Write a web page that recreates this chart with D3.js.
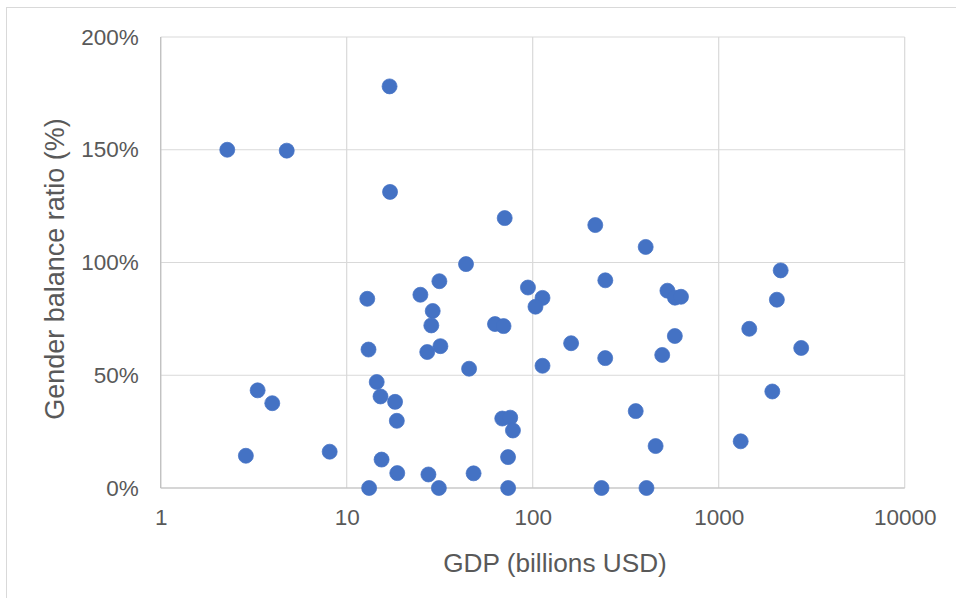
<!DOCTYPE html>
<html>
<head>
<meta charset="utf-8">
<script src="https://cdn.jsdelivr.net/npm/d3@7"></script>
<style>
  html, body { margin: 0; padding: 0; background: #fff; }
  svg { display: block; }
  text { font-family: "Liberation Sans", Arial, sans-serif; fill: #595959; }
</style>
</head>
<body>
<svg id="chart" width="956" height="598"></svg>
<script>
// GDP in billions USD (log scale)
const gdp = [
  2.28, 4.76, 17.0, 17.1, 70.7, 217, 405, 2154, 43.8, 31.5,
  245.7, 94.3, 530, 24.9, 112.9, 582, 627, 2055, 12.9, 103.5,
  29.0, 62.7, 69.7, 28.5, 1460, 581, 160.9, 31.9, 2777, 13.1,
  27.1, 497, 245.4, 112.9, 45.5, 14.5, 3.32, 1942, 15.2, 18.2,
  3.98, 358, 68.6, 75.7, 18.6, 78.3, 1313, 458, 8.1, 2.87,
  73.7, 15.4, 18.7, 27.5, 48.1, 13.2, 31.3, 73.8, 234.4, 409
];
// Gender balance ratio (%)
const ratio = [
  150.0, 149.6, 178.1, 131.3, 119.7, 116.6, 106.9, 96.5, 99.3, 91.7,
  92.1, 88.9, 87.5, 85.7, 84.3, 84.4, 84.8, 83.5, 83.9, 80.4,
  78.5, 72.7, 71.8, 72.1, 70.6, 67.4, 64.2, 62.9, 62.1, 61.4,
  60.3, 59.0, 57.6, 54.2, 52.9, 47.0, 43.3, 42.8, 40.6, 38.2,
  37.6, 34.1, 30.8, 31.2, 29.8, 25.5, 20.7, 18.6, 16.1, 14.3,
  13.7, 12.6, 6.6, 6.0, 6.5, 0, 0, 0, 0, 0
];
const xTicks = [1, 10, 100, 1000, 10000];
const yTicks = [0, 50, 100, 150, 200];
const xTitle = "GDP (billions USD)";
const yTitle = "Gender balance ratio (%)";

const svg = d3.select("#chart");
const plot = { left: 160.7, right: 904.7, top: 37, bottom: 488 };

// Outer chart border (partially cropped)
svg.append("rect")
  .attr("x", 6.5).attr("y", 7.5)
  .attr("width", 970).attr("height", 620)
  .attr("fill", "none").attr("stroke", "#d9d9d9").attr("stroke-width", 1);

const x = d3.scaleLog().domain([1, 10000]).range([plot.left, plot.right]);
const y = d3.scaleLinear().domain([0, 200]).range([plot.bottom, plot.top]);

// Gridlines
const grid = svg.append("g");
grid.selectAll("line.h").data(yTicks).join("line")
  .attr("x1", plot.left).attr("x2", plot.right)
  .attr("y1", d => y(d)).attr("y2", d => y(d))
  .attr("stroke", "#d9d9d9").attr("stroke-width", 1.2);
grid.selectAll("line.v").data(xTicks).join("line")
  .attr("y1", plot.top).attr("y2", plot.bottom)
  .attr("x1", d => x(d)).attr("x2", d => x(d))
  .attr("stroke", "#d9d9d9").attr("stroke-width", 1.2);

// Axis lines
svg.append("line")
  .attr("x1", plot.left).attr("x2", plot.right)
  .attr("y1", plot.bottom).attr("y2", plot.bottom)
  .attr("stroke", "#bfbfbf").attr("stroke-width", 1.2);
svg.append("line")
  .attr("x1", plot.left).attr("x2", plot.left)
  .attr("y1", plot.top).attr("y2", plot.bottom)
  .attr("stroke", "#bfbfbf").attr("stroke-width", 1.2);

// Y axis tick labels
const yAxis = d3.axisLeft(y).tickValues(yTicks).tickSize(0).tickPadding(22)
  .tickFormat(d => d + "%");
const gy = svg.append("g").attr("transform", `translate(${plot.left},0)`).call(yAxis);
gy.select(".domain").remove();
gy.selectAll("text")
  .attr("font-size", "22.5px")
  .attr("fill", "#595959")
  .attr("font-family", "'Liberation Sans', Arial, sans-serif");

// X axis tick labels
const xAxis = d3.axisBottom(x).tickValues(xTicks).tickSize(0).tickPadding(21)
  .tickFormat(d3.format("d"));
const gx = svg.append("g").attr("transform", `translate(0,${plot.bottom})`).call(xAxis);
gx.select(".domain").remove();
gx.selectAll("text")
  .attr("font-size", "22.5px")
  .attr("fill", "#595959")
  .attr("font-family", "'Liberation Sans', Arial, sans-serif");

// Axis titles
svg.append("text")
  .attr("x", 555)
  .attr("y", 571.5)
  .attr("text-anchor", "middle")
  .attr("font-size", "26.2px")
  .text(xTitle);

svg.append("text")
  .attr("transform", `translate(63.5,269) rotate(-90)`)
  .attr("text-anchor", "middle")
  .attr("font-size", "27px")
  .text(yTitle);

// Points
const data = gdp.map((g, i) => ({ g, r: ratio[i] }));
svg.append("g").selectAll("circle").data(data).join("circle")
  .attr("cx", d => x(d.g))
  .attr("cy", d => y(d.r))
  .attr("r", 7.5)
  .attr("fill", "#4472c4")
  .attr("stroke", "#4472c4")
  .attr("stroke-width", 0.75);
</script>
</body>
</html>
